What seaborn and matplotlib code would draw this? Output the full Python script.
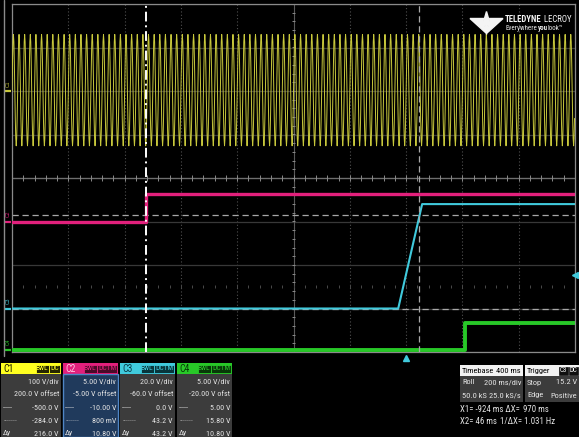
import numpy as np
import pandas as pd
import matplotlib
matplotlib.use('Agg')
import matplotlib.pyplot as plt
import seaborn as sns
from matplotlib import font_manager
from matplotlib.patches import Rectangle, Polygon

# channel settings as shown in the scope's channel boxes
ch_names = ['C1', 'C2', 'C3', 'C4']
ch_colors = ['#c8c83c', '#e3207c', '#40cadc', '#28c828']
ch_vdiv = [100.0, 5.0, 20.0, 5.0]
ch_offset = [200.0, -5.0, -60.0, -20.0]

# time axis (ms), 200 ms/div, 10 div
t_start, t_end, ms_div = -1400, 600, 200

# C1: one mains cycle (V), repeated over the record
c1_cycle_v = [0, 65, 113, 130, 113, 65, 0, -63, -109, -126, -109, -63]
c1_cycles = 100

# C2..C4 level changes (ms, V)
c2_t = [-1400, -924, -924, 600]
c2_v = [0.0, 0.0, 3.2, 3.2]
c3_t = [-1400, -28, 57, 600]
c3_v = [0.0, 0.0, 48.0, 48.0]
c4_t = [-1400, 209, 209, 600]
c4_v = [0.2, 0.2, 3.3, 3.3]

cursor_x = [-924, 46]        # ms
cursor_c3_v = [0.0, 43.2]    # V on C3
trig_level = 15.2            # V on C3

# text in the bottom panels
ch_rows = [
    ['100 V/div', '200.0 V offset', '-500.0 V', '-284.0 V', '216.0 V'],
    ['5.00 V/div', '-5.00 V offset', '-10.00 V', '800 mV', '10.80 V'],
    ['20.0 V/div', '-60.0 V offset', '0.0 V', '43.2 V', '43.2 V'],
    ['5.00 V/div', '-20.00 V ofst', '5.00 V', '15.80 V', '10.80 V'],
]
row_tags = ['', '', '-----', '·······', 'Δy']
ch_coupling = ['DC', 'DC1M', 'DC1M', 'DC1M']


def to_div(v, i):
    return (np.asarray(v, dtype=float) + ch_offset[i]) / ch_vdiv[i]


# pick a narrow font for the readouts if one is around
names = {f.name for f in font_manager.fontManager.ttflist}
narrow = None
for n in ['Liberation Sans Narrow', 'Roboto Condensed', 'Open Sans Condensed', 'Arial Narrow']:
    if n in names:
        narrow = n
        break
if narrow is None:
    narrow = 'Liberation Sans'
fs = 5.8 if narrow != 'Liberation Sans' else 5.2

sns.set_theme(style='dark', rc={'axes.facecolor': 'black', 'figure.facecolor': 'black'})
plt.rcParams['font.family'] = ['Liberation Sans', 'DejaVu Sans']

fig = plt.figure(figsize=(5.79, 4.37), dpi=100)
W, H = 579, 437
ax = fig.add_axes([12 / W, 1 - 352 / H, 563 / W, 348 / H], zorder=1)
ax.set_facecolor('black')

# graticule
ax.set_xlim(t_start, t_end)
ax.set_ylim(-4, 4)
ax.set_xticks(np.arange(t_start, t_end + 1, ms_div))
ax.set_yticks(np.arange(-4, 5, 1))
ax.grid(axis='x', color='#505050', ls=(0, (1, 2)), lw=0.8)
ax.grid(axis='y', color='#383838', ls='-', lw=0.9)
ax.tick_params(length=0, labelbottom=False, labelleft=False)
for s in ax.spines.values():
    s.set_color('#8a8a8a')
    s.set_linewidth(0.9)
x_mid = (t_start + t_end) / 2
ax.axhline(0, color='#6e6e6e', lw=0.9, zorder=1)
ax.axvline(x_mid, color='#5a5a5a', lw=0.8, zorder=1)
minor_t = np.arange(t_start, t_end + 1, ms_div / 5)
minor_d = np.arange(-4, 4.01, 0.2)
ax.vlines(minor_t, -0.06, 0.06, color='#8a8a8a', lw=0.7, zorder=1)
ax.hlines(minor_d, x_mid - 7, x_mid + 7, color='#8a8a8a', lw=0.7, zorder=1)
ax.vlines(minor_t, -2.53, -2.45, color='#4a4a4a', lw=0.7, zorder=1)

# traces
c1_v = np.tile(c1_cycle_v, c1_cycles)
c1_t = np.linspace(t_start, t_end, len(c1_v), endpoint=False)
df1 = pd.DataFrame({'t': c1_t, 'y': to_div(c1_v, 0)})
sns.lineplot(data=df1, x='t', y='y', ax=ax, color=ch_colors[0], lw=0.7,
             estimator=None, sort=False, zorder=3)

steps = [(c2_t, c2_v, 1, 2.4), (c3_t, c3_v, 2, 1.5), (c4_t, c4_v, 3, 2.8)]
for tt, vv, i, lw in steps:
    d = pd.DataFrame({'t': tt, 'y': to_div(vv, i)})
    sns.lineplot(data=d, x='t', y='y', ax=ax, color=ch_colors[i], lw=lw,
                 estimator=None, sort=False, zorder=4)

# cursors
ax.axvline(cursor_x[0], color='white', lw=1.4, ls=(0, (5, 2, 1, 2)), zorder=5)
ax.axvline(cursor_x[1], color='#a8a8a8', lw=0.9, ls=(0, (5, 3)), zorder=5)
for v in cursor_c3_v:
    ax.axhline(to_div(v, 2), color='#a8a8a8', lw=0.9, ls=(0, (5, 3)), zorder=2)

# trigger markers
ax.plot([t_end], [to_div(trig_level, 2)], marker='<', ms=4.5, color=ch_colors[2],
        clip_on=False, zorder=6)
ax.plot([0], [-4.13], marker='^', ms=4.5, color=ch_colors[2], clip_on=False, zorder=6)

# channel ground markers on the left
for i in range(4):
    y0 = float(to_div(0, i))
    y0 = max(y0, -3.95)
    ax.plot([t_start - 24, t_start - 2], [y0, y0], color=ch_colors[i], lw=1.6,
            clip_on=False, solid_capstyle='butt')
    ax.text(t_start - 14, y0 + 0.1, ch_names[i], color=ch_colors[i], fontsize=3.6,
            rotation=90, ha='center', va='bottom', clip_on=False)

# ---- overlay in pixel coordinates for the panels and logo
ui = fig.add_axes([0, 0, 1, 1], zorder=2)
ui.set_xlim(0, W)
ui.set_ylim(H, 0)
ui.axis('off')
ui.patch.set_alpha(0)

ui.plot([4, 4], [0, 356], color='#8a8a8a', lw=1.0)

# logo
white = '#f4f4f4'
ui.add_patch(Polygon([(470, 18.5), (483.5, 18.5), (486, 33)], closed=True, color=white))
ui.add_patch(Polygon([(503, 18.5), (489.5, 18.5), (487, 33)], closed=True, color=white))
ui.add_patch(Polygon([(486.5, 11.5), (488.8, 19.5), (486.5, 34.5), (484.2, 19.5)], closed=True, color=white))
t1 = ui.text(505, 19.5, 'TELEDYNE', color=white, fontsize=6.3, fontweight='bold',
             family=narrow, ha='left', va='center')
ui.annotate(' LECROY', xy=(1, 0), xycoords=t1, color=white, fontsize=6.3,
            family=narrow, ha='left', va='bottom')
t2 = ui.text(506, 28.8, 'Everywhere', color='#e8e8e8', fontsize=5.0, family=narrow,
             ha='left', va='center')
t3 = ui.annotate('you', xy=(1, 0), xycoords=t2, color='#e8e8e8', fontsize=5.0,
                 family=narrow, fontweight='bold', ha='left', va='bottom')
ui.annotate('look\u2122', xy=(1, 0), xycoords=t3, color='#e8e8e8', fontsize=5.0,
            family=narrow, ha='left', va='bottom')

# channel boxes
panel_left = [1, 63, 120, 177]
panel_w = [60, 55, 55, 55]
hdr_top, hdr_bot, body_bot = 363, 374, 437
row_y = [381, 394.5, 408, 421, 433.5]
hdr_txt = ['#1a1a00', '#ffc8e4', '#0a3a48', '#063806']
badge_bg = ['#262600', '#4a0a28', '#08363c', '#083808']
txt_col = '#e4e4e4'
for i in range(4):
    x0, w = panel_left[i], panel_w[i]
    ui.add_patch(Rectangle((x0, hdr_top), w, hdr_bot - hdr_top, color=ch_colors[i] if i else '#ffff20', lw=0))
    if i == 1:
        ui.add_patch(Rectangle((x0, hdr_bot), w, body_bot - hdr_bot, facecolor='#203a5c',
                               edgecolor='#4f86c6', lw=1.0))
    else:
        ui.add_patch(Rectangle((x0, hdr_bot), w, body_bot - hdr_bot, color='#3c3c3c', lw=0))
    ui.text(x0 + 2.5, (hdr_top + hdr_bot) / 2 + 0.3, ch_names[i], color=hdr_txt[i],
            fontsize=7, family=narrow, ha='left', va='center')
    cw = 11 if ch_coupling[i] == 'DC' else 20
    bx = x0 + w - 1 - cw
    bcol = ch_colors[i] if i else '#ffff20'
    ui.add_patch(Rectangle((bx, hdr_top + 1.5), cw, 8, facecolor=badge_bg[i],
                           edgecolor=bcol, lw=0.6))
    ui.text(bx + cw / 2, hdr_top + 5.6, ch_coupling[i], color=bcol, fontsize=fs - 0.4,
            family=narrow, ha='center', va='center')
    bx2 = bx - 13.5
    ui.add_patch(Rectangle((bx2, hdr_top + 1.5), 13, 8, facecolor=badge_bg[i],
                           edgecolor=bcol, lw=0.6))
    ui.text(bx2 + 6.5, hdr_top + 5.6, 'BwL', color=bcol, fontsize=fs - 0.4,
            family=narrow, ha='center', va='center')
    for r in range(5):
        ui.text(x0 + w - 2, row_y[r], ch_rows[i][r], color=txt_col, fontsize=fs,
                family=narrow, ha='right', va='center')
        if row_tags[r]:
            ui.text(x0 + 2, row_y[r], row_tags[r], color=txt_col, fontsize=fs,
                    family=narrow, ha='left', va='center')

# timebase / trigger boxes
for xa, xb in [(460, 523), (525, 579)]:
    ui.add_patch(Rectangle((xa, 365), xb - xa, 11, color='#f2f2f2', lw=0))
    ui.add_patch(Rectangle((xa, 376), xb - xa, 26, color='#3c3c3c', lw=0))
ui.text(462, 370.7, 'Timebase', color='black', fontsize=fs + 0.2, family=narrow, va='center')
ui.text(521, 370.7, '400 ms', color='black', fontsize=fs + 0.2, family=narrow, va='center', ha='right')
ui.text(527, 370.7, 'Trigger', color='black', fontsize=fs + 0.2, family=narrow, va='center')
for bx, lab in [(558.5, 'C3'), (568.5, 'DC')]:
    ui.add_patch(Rectangle((bx, 366.5), 9.5, 8, facecolor='#101010', edgecolor='#101010', lw=0.5))
    ui.text(bx + 4.75, 370.7, lab, color='white', fontsize=fs - 0.8, family=narrow,
            ha='center', va='center')
tb_rows = [('Roll', '200 ms/div', 'Stop', '15.2 V'),
           ('50.0 kS', '25.0 kS/s', 'Edge', 'Positive')]
for r, (a, b, c, d) in enumerate(tb_rows):
    y = [382.5, 395.5][r]
    ui.text(462, y, a, color=txt_col, fontsize=fs + 0.2, family=narrow, va='center')
    ui.text(521, y, b, color=txt_col, fontsize=fs + 0.2, family=narrow, va='center', ha='right')
    ui.text(527, y, c, color=txt_col, fontsize=fs + 0.2, family=narrow, va='center')
    ui.text(577, y, d, color=txt_col, fontsize=fs + 0.2, family=narrow, va='center', ha='right')

ui.text(460, 409, 'X1= -924 ms ΔX=', color=txt_col, fontsize=fs + 0.5, family=narrow, va='center')
ui.text(523, 409, '970 ms', color=txt_col, fontsize=fs + 0.5, family=narrow, va='center')
ui.text(460, 422, 'X2= 46 ms', color=txt_col, fontsize=fs + 0.5, family=narrow, va='center')
ui.text(500, 422, '1/ΔX= 1.031 Hz', color=txt_col, fontsize=fs + 0.5, family=narrow, va='center')

fig.savefig('out.png', dpi=100, facecolor='black')
